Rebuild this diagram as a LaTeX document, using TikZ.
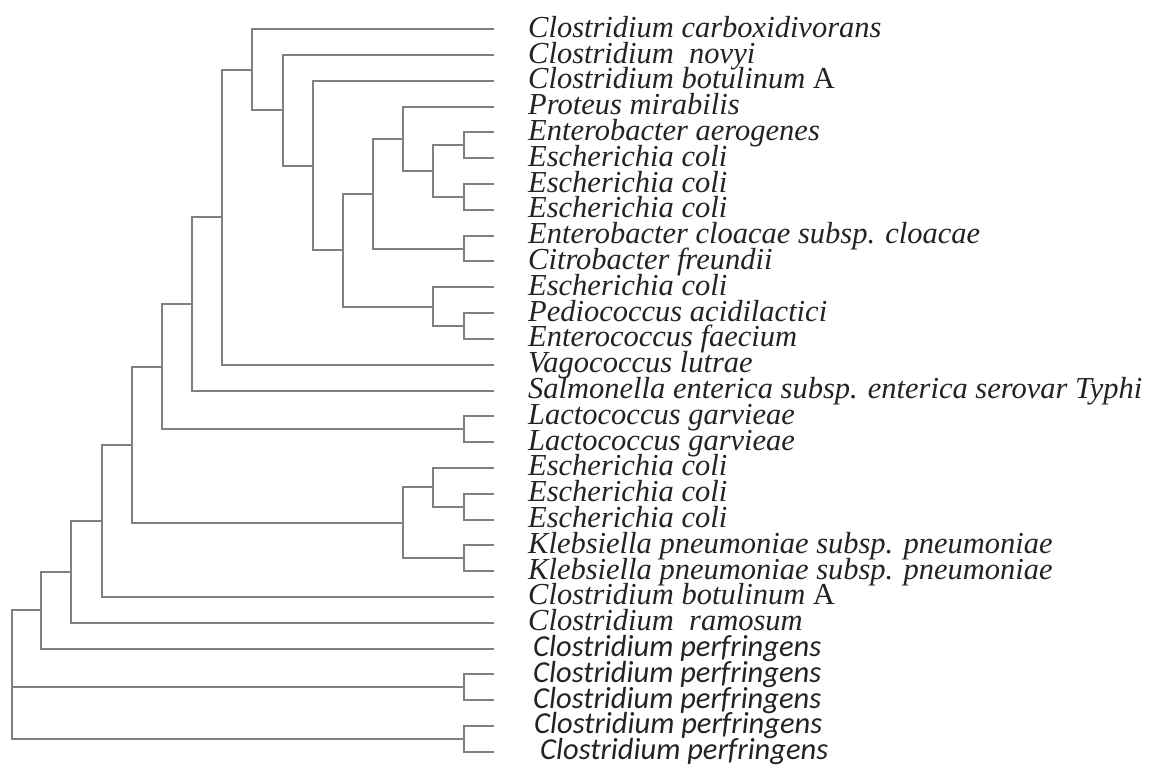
\documentclass[tikz,border=0pt]{standalone}
\usepackage{fontspec}
\setmainfont{Liberation Serif}
\newfontfamily\sanslabel{Carlito}
\usetikzlibrary{calc}
\definecolor{branchgray}{RGB}{128,128,128}
\definecolor{labelink}{RGB}{35,35,35}
\tikzset{
	branch/.style={draw=branchgray, line width=2pt},
	taxlabel/.style={anchor=base west, inner sep=0pt, text height=17pt, text depth=5pt, text=labelink, font=\fontsize{30.5}{32}\selectfont\itshape},
}
\newcommand{\taxon}[4][528] % label x, name, row, text
{
	% tip of the branch
	\coordinate (#2) at (494,{29.3+(#3-1)*25.8});
	% species name
	\node[taxlabel] (#2-name) at (#1,{37.3+(#3-1)*25.8}) {#4};
}
\newcommand{\clade}[4] % name, x, upper child, lower child
{
	\path let \p1 = ($(#3)!0.5!(#4)$) in (#2pt,\y1) coordinate (#1);
	\draw[branch] (#3) -| (#1) |- (#4);
}

\begin{document}
\begin{tikzpicture}[x=1pt, y=-1pt]
	% 1 unit = 1 pixel of the 1153 x 767 figure
	\useasboundingbox (0,0) rectangle (1153,767);

	\taxon{carb}{1}{Clostridium carboxidivorans}
	\taxon{novyi}{2}{Clostridium~~novyi}
	\taxon{botA}{3}{Clostridium botulinum {\upshape A}}
	\taxon{prot}{4}{Proteus mirabilis}
	\taxon{aero}{5}{Enterobacter aerogenes}
	\taxon{coliA}{6}{Escherichia coli}
	\taxon{coliB}{7}{Escherichia coli}
	\taxon{coliC}{8}{Escherichia coli}
	\taxon{cloa}{9}{Enterobacter cloacae subsp. cloacae}
	\taxon{citro}{10}{Citrobacter freundii}
	\taxon{coliD}{11}{Escherichia coli}
	\taxon{pedio}{12}{Pediococcus acidilactici}
	\taxon{faec}{13}{Enterococcus faecium}
	\taxon{vago}{14}{Vagococcus lutrae}
	\taxon{salm}{15}{Salmonella enterica subsp. enterica serovar Typhi}
	\taxon{lactA}{16}{Lactococcus garvieae}
	\taxon{lactB}{17}{Lactococcus garvieae}
	\taxon{coliE}{18}{Escherichia coli}
	\taxon{coliF}{19}{Escherichia coli}
	\taxon{coliG}{20}{Escherichia coli}
	\taxon{klebA}{21}{Klebsiella pneumoniae subsp. pneumoniae}
	\taxon{klebB}{22}{Klebsiella pneumoniae subsp. pneumoniae}
	\taxon{botB}{23}{Clostridium botulinum {\upshape A}}
	\taxon{ramo}{24}{Clostridium~~ramosum}
	\taxon[533]{perfA}{25}{\sanslabel Clostridium perfringens}
	\taxon[533]{perfB}{26}{\sanslabel Clostridium perfringens}
	\taxon[533]{perfC}{27}{\sanslabel Clostridium perfringens}
	\taxon[534]{perfD}{28}{\sanslabel Clostridium perfringens}
	\taxon[540]{perfE}{29}{\sanslabel Clostridium perfringens}

	% upper clade
	\clade{J}{464}{aero}{coliA}
	\clade{K}{464}{coliB}{coliC}
	\clade{I}{433}{J}{K}
	\clade{G}{403}{prot}{I}
	\clade{H}{464}{cloa}{citro}
	\clade{E}{373}{G}{H}
	\clade{L}{464}{pedio}{faec}
	\clade{F}{433}{coliD}{L}
	\clade{D}{343}{E}{F}
	\clade{C}{313}{botA}{D}
	\clade{B}{283}{novyi}{C}
	\clade{A}{252}{carb}{B}
	\clade{M}{222}{A}{vago}
	\clade{N}{192}{M}{salm}
	\clade{P}{464}{lactA}{lactB}
	\clade{O}{162}{N}{P}

	% E. coli / Klebsiella
	\clade{U}{464}{coliF}{coliG}
	\clade{S}{433}{coliE}{U}
	\clade{T}{464}{klebA}{klebB}
	\clade{R}{403}{S}{T}

	% backbone
	\clade{Q}{132}{O}{R}
	\clade{V}{102}{Q}{botB}
	\clade{W}{71}{V}{ramo}
	\clade{X}{41}{W}{perfA}
	\clade{Z1}{464}{perfB}{perfC}
	\clade{Z2}{464}{perfD}{perfE}
	\clade{root}{12}{X}{Z2}
	\draw[branch] (root |- Z1) -- (Z1);
\end{tikzpicture}
\end{document}
